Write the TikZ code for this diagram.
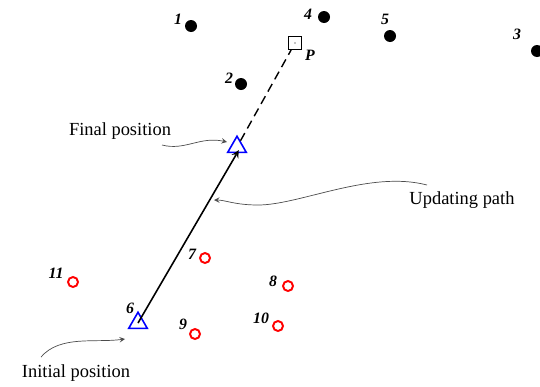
\documentclass[tikz,border=0pt]{standalone}
\usepackage{fontspec}
\setmainfont{Liberation Serif}
\usepackage{xcolor}
\usetikzlibrary{shapes.geometric, arrows, positioning}

\begin{document}
\begin{tikzpicture}[
    x=0.02cm, y=-0.02cm,
    anchorpt/.style={circle, fill=black, inner sep=0pt, minimum size=0.24cm},
    unknownpt/.style={circle, draw=red, line width=1.1pt, inner sep=0pt, minimum size=0.2cm},
    estpt/.style={regular polygon, regular polygon sides=3, draw=blue, line width=0.9pt, inner sep=0pt, minimum size=0.43cm},
    targetpt/.style={rectangle, draw=black, line width=0.5pt, inner sep=0pt, minimum size=0.26cm},
    numlbl/.style={font=\small\bfseries\itshape, inner sep=1pt},
    caption/.style={font=\fontsize{10.5}{12}\selectfont, inner sep=1pt},
    pointer/.style={->, >=stealth, black!70, line width=0.4pt},
    arrow/.style={line width=0.9pt, ->, >=stealth, black}
]
    \useasboundingbox (0,0) rectangle (540,386);

    % Anchors (black)
    \node (n1) [anchorpt] at (191,26) {};
    \node (l1) [numlbl] at (178,19) {1};
    \node (n2) [anchorpt] at (241,84) {};
    \node (l2) [numlbl] at (229,78) {2};
    \node (n3) [anchorpt] at (537,51) {};
    \node (l3) [numlbl] at (517,34) {3};
    \node (n4) [anchorpt] at (324,17) {};
    \node (l4) [numlbl] at (308,14) {4};
    \node (n5) [anchorpt] at (390,36) {};
    \node (l5) [numlbl] at (385,19) {5};

    % Target P
    \node (P) [targetpt] at (295,43) {};
    \fill (P.center) circle (0.4pt);
    \node (lP) [numlbl] at (310,55) {P};

    % Unknown nodes (red)
    \node (n7) [unknownpt] at (205,258) {};
    \node (l7) [numlbl] at (192,254) {7};
    \node (n8) [unknownpt] at (288,286) {};
    \node (l8) [numlbl] at (273,281) {8};
    \node (n9) [unknownpt] at (195,334) {};
    \node (l9) [numlbl] at (183,324) {9};
    \node (n10) [unknownpt] at (278,326) {};
    \node (l10) [numlbl] at (261,318) {10};
    \node (n11) [unknownpt] at (73,282) {};
    \node (l11) [numlbl] at (56,273) {11};

    % Initial and final position of node 6
    \node (init) [estpt] at (138,323) {};
    \node (l6) [numlbl] at (130,308) {6};
    \node (final) [estpt] at (237,147) {};

    % Path
    \draw [arrow, shorten >=-2pt] (init.center) -- (final.south);
    \draw [dash pattern=on 5pt off 3pt, line width=0.8pt] (final) -- (P);
    \coordinate (onpath) at (214,200);

    % Captions
    \node (capfinal) [caption] at (120,131) {Final position};
    \node (capupd) [caption] at (462,200) {Updating path};
    \node (capinit) [caption] at (76,373) {Initial position};

    \draw [pointer] (162,145) .. controls (185,151) and (200,136) .. (227,142);
    \draw [pointer] (427,185) .. controls (370,170) and (300,205) .. (258,205) .. controls (235,205) and (225,200) .. (onpath);
    \draw [pointer] (41,357) .. controls (60,335) and (95,343) .. (125,339);
\end{tikzpicture}
\end{document}
